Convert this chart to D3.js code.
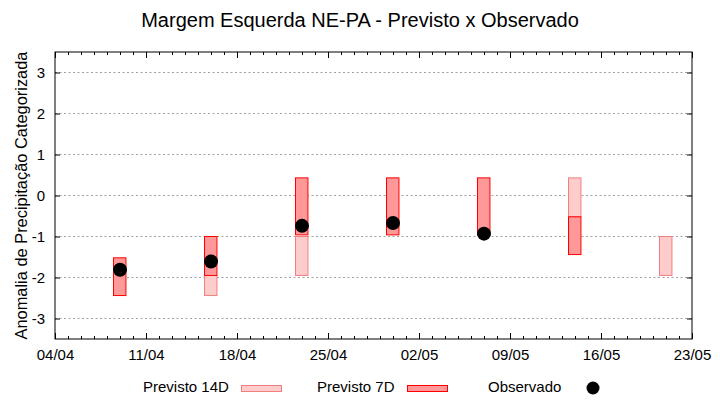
<!DOCTYPE html>
<html><head><meta charset="utf-8">
<script src="https://cdn.jsdelivr.net/npm/d3@7"></script>
<style>body{margin:0;background:#fff}svg{display:block}text{font-family:"Liberation Sans",Arial,sans-serif;fill:#000}</style>
</head><body><svg id="c" width="720" height="400"></svg>
<script>
const titleText = "Margem Esquerda NE-PA - Previsto x Observado";
const yLabel = "Anomalia de Precipitação Categorizada";
const dates = ["09/04","16/04","23/04","30/04","07/05","14/05","21/05"];
const prev14Low  = [null, -2.44, -1.95, null, null, -0.52, -1.95];
const prev14High = [null, -1.95, -1.00, null, null,  0.43, -1.00];
const prev7Low   = [-2.44, -1.95, -0.96, -0.96, -0.96, -1.44, null];
const prev7High  = [-1.52, -1.00,  0.43,  0.43,  0.43, -0.52, null];
const observed   = [-1.81, -1.61, -0.74, -0.67, -0.93, null, null];
const xTickLabels = ["04/04","11/04","18/04","25/04","02/05","09/05","16/05","23/05"];
const yTicks = [-3,-2,-1,0,1,2,3];
const legendLabels = ["Previsto 14D","Previsto 7D","Observado"];

const parse = d3.utcParse("%d/%m");
const svg = d3.select("#c");
const M = {l:55, r:692, t:52, b:339};
const x = d3.scaleUtc().domain([parse(xTickLabels[0]), parse(xTickLabels[xTickLabels.length-1])]).range([M.l, M.r]);
const y = d3.scaleLinear().domain([-3.5, 3.5]).range([M.b, M.t]);

// title
svg.append("text").attr("x",360).attr("y",27).attr("text-anchor","middle").style("font-size","20px").text(titleText);

// grid
svg.append("g").selectAll("line").data(yTicks).join("line")
  .attr("x1",M.l).attr("x2",M.r).attr("y1",d=>y(d)).attr("y2",d=>y(d))
  .attr("stroke","#a0a0a0").attr("stroke-width",1).attr("stroke-dasharray","2,2.5");

// axes
const days = d3.utcDay.range(x.domain()[0], d3.utcDay.offset(x.domain()[1],1));
const majors = xTickLabels.map(parse);
const fmt = d3.utcFormat("%d/%m");
const gx = svg.append("g").attr("transform",`translate(0,${M.b})`)
  .call(d3.axisBottom(x).tickValues(majors).tickFormat(fmt).tickSize(-6).tickSizeOuter(0).tickPadding(10));
const gxMinor = svg.append("g").attr("transform",`translate(0,${M.b})`)
  .call(d3.axisBottom(x).tickValues(days).tickFormat("").tickSize(-3).tickSizeOuter(0));
const gxTop = svg.append("g").attr("transform",`translate(0,${M.t})`)
  .call(d3.axisTop(x).tickValues(majors).tickFormat("").tickSize(-6).tickSizeOuter(0));
const gxTopMinor = svg.append("g").attr("transform",`translate(0,${M.t})`)
  .call(d3.axisTop(x).tickValues(days).tickFormat("").tickSize(-3).tickSizeOuter(0));
const gy = svg.append("g").attr("transform",`translate(${M.l},0)`)
  .call(d3.axisLeft(y).tickValues(yTicks).tickFormat(d3.format("d")).tickSize(-5).tickSizeOuter(0).tickPadding(10));
const gyR = svg.append("g").attr("transform",`translate(${M.r},0)`)
  .call(d3.axisRight(y).tickValues(yTicks).tickFormat("").tickSize(-5).tickSizeOuter(0));
[gx,gxMinor,gxTop,gxTopMinor,gy,gyR].forEach(g=>{
  g.select(".domain").remove();
  g.selectAll(".tick line").attr("stroke","#000");
  g.selectAll("text").style("font-size","15px").attr("fill","#000").style("font-family","'Liberation Sans',Arial,sans-serif");
});
gy.selectAll("text").text(d=> d<0 ? "-"+Math.abs(d) : d);
svg.append("rect").attr("x",M.l).attr("y",M.t).attr("width",M.r-M.l).attr("height",M.b-M.t)
  .attr("fill","none").attr("stroke","#000").attr("stroke-width",1);

// y label
svg.append("text").attr("transform",`translate(27,${(M.t+M.b)/2}) rotate(-90)`).attr("text-anchor","middle")
  .style("font-size","16.4px").text(yLabel);

// bars
const halfW = 0.46; // days
const rows = dates.map((d,i)=>({date:parse(d), l14:prev14Low[i], h14:prev14High[i], l7:prev7Low[i], h7:prev7High[i], obs:observed[i]}));
const bx = d => x(d3.utcHour.offset(d.date, -halfW*24));
const bw = d => x(d3.utcHour.offset(d.date, halfW*24)) - bx(d);
svg.append("g").selectAll("rect").data(rows.filter(r=>r.l14!==null)).join("rect")
  .attr("x",bx).attr("width",bw).attr("y",d=>y(d.h14)).attr("height",d=>y(d.l14)-y(d.h14))
  .attr("fill","#ffcccc").attr("stroke","#f08080").attr("stroke-width",1);
svg.append("g").selectAll("rect").data(rows.filter(r=>r.l7!==null)).join("rect")
  .attr("x",bx).attr("width",bw).attr("y",d=>y(d.h7)).attr("height",d=>y(d.l7)-y(d.h7))
  .attr("fill","#ff9999").attr("stroke","#ff0000").attr("stroke-width",1);
svg.append("g").selectAll("circle").data(rows.filter(r=>r.obs!==null)).join("circle")
  .attr("cx",d=>x(d.date)).attr("cy",d=>y(d.obs)).attr("r",7).attr("fill","#000");

// legend
const lg = svg.append("g").style("font-size","15px");
lg.append("text").attr("x",143).attr("y",392).text(legendLabels[0]);
lg.append("rect").attr("x",241.5).attr("y",385.5).attr("width",40).attr("height",6).attr("fill","#ffcccc").attr("stroke","#f08080");
lg.append("text").attr("x",317).attr("y",392).text(legendLabels[1]);
lg.append("rect").attr("x",407.5).attr("y",385.5).attr("width",40).attr("height",6).attr("fill","#ff9999").attr("stroke","#ff0000");
lg.append("text").attr("x",488).attr("y",392).text(legendLabels[2]);
lg.append("circle").attr("cx",593).attr("cy",388).attr("r",6.5).attr("fill","#000");
</script></body></html>
